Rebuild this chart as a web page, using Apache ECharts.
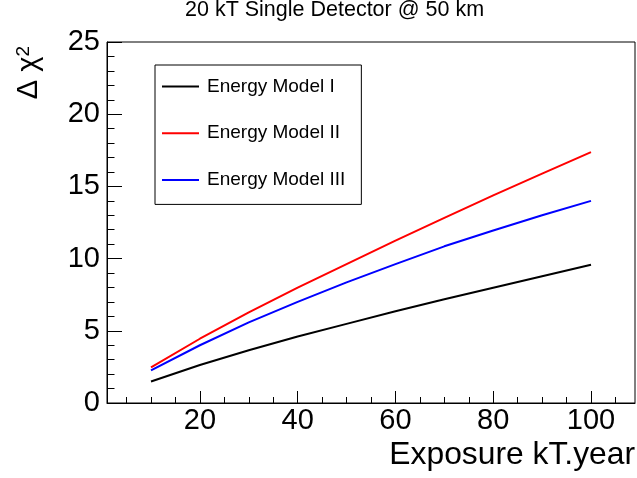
<!DOCTYPE html>
<html>
<head>
<meta charset="utf-8">
<script src="https://cdn.jsdelivr.net/npm/echarts@6/dist/echarts.min.js"></script>
<style>
  html, body { margin: 0; padding: 0; background: #fff; }
  #chart { width: 637px; height: 478px; }
</style>
</head>
<body>
<div id="chart"></div>
<script>
// Exposure in kT.year
const exposure = [10, 20, 30, 40, 50, 60, 70, 80, 90, 100];
// Delta chi^2 for each energy model
const modelI   = [1.49, 2.63, 3.65, 4.60, 5.48, 6.35, 7.18, 7.98, 8.78, 9.58];
const modelII  = [2.46, 4.45, 6.27, 7.99, 9.62, 11.25, 12.82, 14.38, 15.89, 17.37];
const modelIII = [2.26, 4.00, 5.58, 7.00, 8.35, 9.62, 10.85, 11.95, 13.00, 14.00];

const seriesNames = ['Energy Model I', 'Energy Model II', 'Energy Model III'];
const seriesColors = ['#000000', '#ff0000', '#0000ff'];

const xMajorTicks = [20, 40, 60, 80, 100];
const xMinorTicks = [5, 10, 15, 25, 30, 35, 45, 50, 55, 65, 70, 75, 85, 90, 95, 105];
const xRange = [1, 109];
const yRange = [0, 25];
const yStep = 5;

const FONT = "'Liberation Sans', Arial, Helvetica, sans-serif";

const chart = echarts.init(document.getElementById('chart'), null, { renderer: 'canvas' });

const pairs = vals => exposure.map((x, i) => [x, vals[i]]);

chart.setOption({
  backgroundColor: '#fff',
  animation: false,
  title: {
    text: '20 kT Single Detector @ 50 km',
    left: 185,
    top: -1,
    padding: 0,
    textStyle: { fontFamily: FONT, fontSize: 21.5, fontWeight: 'normal', color: '#000' }
  },
  grid: {
    left: 107, right: 2, top: 42, bottom: 75,
    show: true, borderColor: '#000', borderWidth: 1, backgroundColor: 'transparent'
  },
  legend: {
    orient: 'vertical',
    left: 155, top: 65,
    padding: [12, 16, 15, 7],
    itemGap: 27.7,
    itemWidth: 37,
    itemHeight: 2,
    icon: 'rect',
    backgroundColor: '#fff',
    borderColor: '#000',
    borderWidth: 1,
    borderRadius: 0,
    textStyle: { fontFamily: FONT, fontSize: 19, color: '#000', padding: [0, 0, 0, 3] },
    data: seriesNames
  },
  xAxis: [
    {
      type: 'value', min: xRange[0], max: xRange[1],
      axisLine: { show: true, lineStyle: { color: '#000', width: 1 } },
      axisTick: { show: true, inside: true, length: 12, customValues: xMajorTicks, lineStyle: { color: '#000' } },
      axisLabel: { customValues: xMajorTicks, fontFamily: FONT, fontSize: 29, color: '#000', margin: 3 },
      splitLine: { show: false }
    },
    {
      type: 'value', min: xRange[0], max: xRange[1], position: 'bottom',
      axisLine: { show: false },
      axisTick: { show: true, inside: true, length: 6, customValues: xMinorTicks, lineStyle: { color: '#000' } },
      axisLabel: { show: false },
      splitLine: { show: false }
    }
  ],
  yAxis: {
    type: 'value', min: yRange[0], max: yRange[1], interval: yStep,
    axisLine: { show: true, lineStyle: { color: '#000', width: 1 } },
    axisTick: { show: true, inside: true, length: 15, lineStyle: { color: '#000' } },
    minorTick: { show: true, splitNumber: 5, length: 7.5, lineStyle: { color: '#000' } },
    axisLabel: { fontFamily: FONT, fontSize: 29, color: '#000', margin: 7 },
    splitLine: { show: false }
  },
  graphic: [
    {
      type: 'text',
      right: 2, top: 439,
      style: { text: 'Exposure kT.year', font: '31.8px ' + FONT, fill: '#000' }
    },
    {
      type: 'text',
      x: 44, y: 46,
      rotation: Math.PI / 2,
      style: {
        text: '{a|Δ χ}{b|2}',
        align: 'right',
        verticalAlign: 'bottom',
        rich: {
          a: { fontFamily: FONT, fontSize: 29, fill: '#000', lineHeight: 30 },
          b: { fontFamily: FONT, fontSize: 19, fill: '#000', verticalAlign: 'top', lineHeight: 30 }
        }
      }
    }
  ],
  series: seriesNames.map((name, k) => ({
    name,
    type: 'line',
    xAxisIndex: 0,
    data: pairs([modelI, modelII, modelIII][k]),
    showSymbol: false,
    symbol: 'none',
    lineStyle: { color: seriesColors[k], width: 2 },
    itemStyle: { color: seriesColors[k] }
  }))
});
</script>
</body>
</html>
